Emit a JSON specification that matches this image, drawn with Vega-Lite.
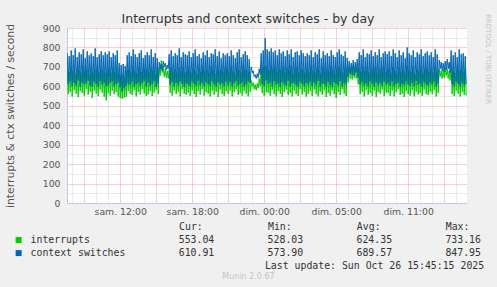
{
"$schema": "https://vega.github.io/schema/vega-lite/v6.json",
"width": 400, "height": 175,
"autosize": {"type": "none"},
"padding": {"left": 67, "top": 28, "right": 30, "bottom": 84},
"background": "#F0F0F0",
"config": {"view": {"fill": "white", "stroke": null}, "font": "DejaVu Sans"},
"title": {"text": "Interrupts and context switches - by day", "font": "DejaVu Sans", "fontSize": 12.5, "fontWeight": "normal", "color": "#333333", "anchor": "middle", "dx": -19, "dy": 12.5, "offset": 0},
"data": {"values": [
{"t":455,"i":690,"c":770},{"t":460,"i":560,"c":612},
{"t":465,"i":675,"c":755},{"t":470,"i":570,"c":625},
{"t":475,"i":700,"c":785},{"t":480,"i":548,"c":600},
{"t":485,"i":680,"c":760},{"t":490,"i":580,"c":618},
{"t":495,"i":665,"c":795},{"t":500,"i":562,"c":605},
{"t":505,"i":695,"c":750},{"t":510,"i":545,"c":630},
{"t":515,"i":685,"c":775},{"t":520,"i":575,"c":598},
{"t":525,"i":670,"c":765},{"t":530,"i":566,"c":620},
{"t":535,"i":705,"c":790},{"t":540,"i":552,"c":610},
{"t":545,"i":680,"c":745},{"t":550,"i":585,"c":615},
{"t":555,"i":690,"c":780},{"t":560,"i":558,"c":628},
{"t":565,"i":660,"c":760},{"t":570,"i":572,"c":604},
{"t":575,"i":695,"c":770},{"t":580,"i":540,"c":600},
{"t":585,"i":675,"c":755},{"t":590,"i":578,"c":622},
{"t":595,"i":685,"c":795},{"t":600,"i":563,"c":612},
{"t":605,"i":700,"c":750},{"t":610,"i":550,"c":596},
{"t":615,"i":670,"c":765},{"t":620,"i":582,"c":627},
{"t":625,"i":690,"c":780},{"t":630,"i":568,"c":608},
{"t":635,"i":680,"c":760},{"t":640,"i":547,"c":618},
{"t":645,"i":665,"c":775},{"t":650,"i":528,"c":603},
{"t":655,"i":680,"c":765},{"t":660,"i":565,"c":605},
{"t":665,"i":695,"c":780},{"t":670,"i":552,"c":618},
{"t":675,"i":670,"c":750},{"t":680,"i":578,"c":626},
{"t":685,"i":690,"c":770},{"t":690,"i":560,"c":600},
{"t":695,"i":675,"c":760},{"t":700,"i":570,"c":612},
{"t":705,"i":700,"c":785},{"t":710,"i":548,"c":620},
{"t":715,"i":660,"c":720},{"t":720,"i":540,"c":595},
{"t":725,"i":655,"c":710},{"t":730,"i":535,"c":574},
{"t":735,"i":665,"c":715},{"t":740,"i":542,"c":590},
{"t":745,"i":650,"c":705},{"t":750,"i":545,"c":602},
{"t":755,"i":685,"c":760},{"t":760,"i":575,"c":615},
{"t":765,"i":690,"c":775},{"t":770,"i":562,"c":606},
{"t":775,"i":670,"c":755},{"t":780,"i":555,"c":624},
{"t":785,"i":700,"c":790},{"t":790,"i":580,"c":598},
{"t":795,"i":680,"c":765},{"t":800,"i":548,"c":610},
{"t":805,"i":665,"c":750},{"t":810,"i":570,"c":620},
{"t":815,"i":695,"c":770},{"t":820,"i":558,"c":603},
{"t":825,"i":675,"c":785},{"t":830,"i":585,"c":616},
{"t":835,"i":690,"c":745},{"t":840,"i":563,"c":628},
{"t":845,"i":685,"c":760},{"t":850,"i":550,"c":600},
{"t":855,"i":690,"c":775},{"t":860,"i":558,"c":620},
{"t":865,"i":670,"c":760},{"t":870,"i":575,"c":604},
{"t":875,"i":700,"c":790},{"t":880,"i":550,"c":612},
{"t":885,"i":680,"c":750},{"t":890,"i":568,"c":626},
{"t":895,"i":665,"c":770},{"t":900,"i":582,"c":598},
{"t":905,"i":695,"c":745},{"t":910,"i":560,"c":615},
{"t":915,"i":700,"c":725},{"t":920,"i":655,"c":690},
{"t":925,"i":733,"c":715},{"t":930,"i":670,"c":680},
{"t":935,"i":705,"c":730},{"t":940,"i":650,"c":700},
{"t":945,"i":690,"c":720},{"t":950,"i":645,"c":685},
{"t":955,"i":680,"c":710},{"t":960,"i":640,"c":690},
{"t":965,"i":685,"c":765},{"t":970,"i":566,"c":610},
{"t":975,"i":700,"c":785},{"t":980,"i":552,"c":622},
{"t":985,"i":675,"c":755},{"t":990,"i":578,"c":600},
{"t":995,"i":690,"c":770},{"t":1000,"i":560,"c":618},
{"t":1005,"i":665,"c":760},{"t":1010,"i":572,"c":606},
{"t":1015,"i":695,"c":795},{"t":1020,"i":548,"c":624},
{"t":1025,"i":680,"c":750},{"t":1030,"i":585,"c":612},
{"t":1035,"i":700,"c":775},{"t":1040,"i":562,"c":598},
{"t":1045,"i":670,"c":765},{"t":1050,"i":556,"c":616},
{"t":1055,"i":685,"c":760},{"t":1060,"i":568,"c":610},
{"t":1065,"i":700,"c":780},{"t":1070,"i":550,"c":600},
{"t":1075,"i":670,"c":750},{"t":1080,"i":580,"c":624},
{"t":1085,"i":690,"c":770},{"t":1090,"i":560,"c":614},
{"t":1095,"i":680,"c":790},{"t":1100,"i":545,"c":602},
{"t":1105,"i":665,"c":755},{"t":1110,"i":575,"c":628},
{"t":1115,"i":695,"c":765},{"t":1120,"i":558,"c":606},
{"t":1125,"i":675,"c":745},{"t":1130,"i":585,"c":618},
{"t":1135,"i":705,"c":775},{"t":1140,"i":552,"c":600},
{"t":1145,"i":680,"c":760},{"t":1150,"i":570,"c":622},
{"t":1155,"i":690,"c":785},{"t":1160,"i":562,"c":612},
{"t":1165,"i":670,"c":750},{"t":1170,"i":548,"c":604},
{"t":1175,"i":700,"c":770},{"t":1180,"i":578,"c":626},
{"t":1185,"i":685,"c":765},{"t":1190,"i":556,"c":610},
{"t":1195,"i":665,"c":790},{"t":1200,"i":572,"c":598},
{"t":1205,"i":695,"c":755},{"t":1210,"i":545,"c":620},
{"t":1215,"i":680,"c":780},{"t":1220,"i":583,"c":608},
{"t":1225,"i":690,"c":745},{"t":1230,"i":560,"c":616},
{"t":1235,"i":675,"c":770},{"t":1240,"i":550,"c":602},
{"t":1245,"i":700,"c":760},{"t":1250,"i":575,"c":624},
{"t":1255,"i":690,"c":770},{"t":1260,"i":560,"c":606},
{"t":1265,"i":675,"c":755},{"t":1270,"i":578,"c":622},
{"t":1275,"i":700,"c":785},{"t":1280,"i":548,"c":600},
{"t":1285,"i":680,"c":760},{"t":1290,"i":570,"c":616},
{"t":1295,"i":665,"c":745},{"t":1300,"i":585,"c":628},
{"t":1305,"i":695,"c":775},{"t":1310,"i":556,"c":604},
{"t":1315,"i":685,"c":790},{"t":1320,"i":566,"c":612},
{"t":1325,"i":670,"c":750},{"t":1330,"i":552,"c":620},
{"t":1335,"i":705,"c":765},{"t":1340,"i":575,"c":598},
{"t":1345,"i":690,"c":780},{"t":1350,"i":562,"c":610},
{"t":1355,"i":680,"c":760},{"t":1360,"i":548,"c":624},
{"t":1365,"i":675,"c":740},{"t":1370,"i":570,"c":618},
{"t":1375,"i":630,"c":700},{"t":1380,"i":600,"c":670},
{"t":1385,"i":620,"c":680},{"t":1390,"i":585,"c":650},
{"t":1395,"i":610,"c":660},{"t":1400,"i":580,"c":640},
{"t":1405,"i":615,"c":665},{"t":1410,"i":590,"c":645},
{"t":1415,"i":640,"c":690},{"t":1420,"i":600,"c":660},
{"t":1425,"i":690,"c":770},{"t":1430,"i":565,"c":612},
{"t":1435,"i":700,"c":785},{"t":1440,"i":552,"c":602},
{"t":1445,"i":705,"c":848},{"t":1450,"i":570,"c":630},
{"t":1455,"i":695,"c":790},{"t":1460,"i":566,"c":612},
{"t":1465,"i":680,"c":780},{"t":1470,"i":552,"c":620},
{"t":1475,"i":705,"c":795},{"t":1480,"i":580,"c":600},
{"t":1485,"i":690,"c":775},{"t":1490,"i":560,"c":626},
{"t":1495,"i":700,"c":785},{"t":1500,"i":548,"c":608},
{"t":1505,"i":675,"c":760},{"t":1510,"i":575,"c":616},
{"t":1515,"i":690,"c":790},{"t":1520,"i":562,"c":598},
{"t":1525,"i":685,"c":770},{"t":1530,"i":545,"c":622},
{"t":1535,"i":700,"c":780},{"t":1540,"i":570,"c":610},
{"t":1545,"i":670,"c":755},{"t":1550,"i":583,"c":604},
{"t":1555,"i":695,"c":785},{"t":1560,"i":556,"c":628},
{"t":1565,"i":680,"c":765},{"t":1570,"i":565,"c":600},
{"t":1575,"i":705,"c":790},{"t":1580,"i":548,"c":614},
{"t":1585,"i":665,"c":750},{"t":1590,"i":578,"c":620},
{"t":1595,"i":690,"c":775},{"t":1600,"i":560,"c":606},
{"t":1605,"i":700,"c":780},{"t":1610,"i":550,"c":598},
{"t":1615,"i":675,"c":760},{"t":1620,"i":585,"c":624},
{"t":1625,"i":690,"c":785},{"t":1630,"i":558,"c":612},
{"t":1635,"i":685,"c":770},{"t":1640,"i":572,"c":602},
{"t":1645,"i":670,"c":755},{"t":1650,"i":547,"c":618},
{"t":1655,"i":690,"c":770},{"t":1660,"i":562,"c":610},
{"t":1665,"i":675,"c":760},{"t":1670,"i":575,"c":624},
{"t":1675,"i":700,"c":785},{"t":1680,"i":550,"c":602},
{"t":1685,"i":680,"c":750},{"t":1690,"i":583,"c":618},
{"t":1695,"i":670,"c":775},{"t":1700,"i":560,"c":606},
{"t":1705,"i":695,"c":765},{"t":1710,"i":548,"c":628},
{"t":1715,"i":685,"c":790},{"t":1720,"i":572,"c":598},
{"t":1725,"i":665,"c":745},{"t":1730,"i":556,"c":616},
{"t":1735,"i":700,"c":780},{"t":1740,"i":580,"c":612},
{"t":1745,"i":680,"c":760},{"t":1750,"i":545,"c":600},
{"t":1755,"i":690,"c":770},{"t":1760,"i":565,"c":622},
{"t":1765,"i":675,"c":755},{"t":1770,"i":552,"c":608},
{"t":1775,"i":705,"c":785},{"t":1780,"i":578,"c":596},
{"t":1785,"i":685,"c":760},{"t":1790,"i":560,"c":620},
{"t":1795,"i":665,"c":750},{"t":1800,"i":540,"c":614},
{"t":1805,"i":690,"c":775},{"t":1810,"i":570,"c":604},
{"t":1815,"i":700,"c":790},{"t":1820,"i":555,"c":626},
{"t":1825,"i":680,"c":765},{"t":1830,"i":585,"c":600},
{"t":1835,"i":670,"c":755},{"t":1840,"i":562,"c":618},
{"t":1845,"i":695,"c":780},{"t":1850,"i":550,"c":610},
{"t":1855,"i":700,"c":745},{"t":1860,"i":620,"c":650},
{"t":1865,"i":705,"c":730},{"t":1870,"i":640,"c":665},
{"t":1875,"i":695,"c":720},{"t":1880,"i":635,"c":660},
{"t":1885,"i":710,"c":735},{"t":1890,"i":645,"c":655},
{"t":1895,"i":700,"c":725},{"t":1900,"i":640,"c":670},
{"t":1905,"i":690,"c":740},{"t":1910,"i":610,"c":645},
{"t":1915,"i":690,"c":775},{"t":1920,"i":560,"c":610},
{"t":1925,"i":675,"c":760},{"t":1930,"i":572,"c":622},
{"t":1935,"i":700,"c":790},{"t":1940,"i":548,"c":604},
{"t":1945,"i":680,"c":750},{"t":1950,"i":580,"c":616},
{"t":1955,"i":695,"c":770},{"t":1960,"i":556,"c":600},
{"t":1965,"i":670,"c":765},{"t":1970,"i":566,"c":626},
{"t":1975,"i":690,"c":785},{"t":1980,"i":552,"c":612},
{"t":1985,"i":685,"c":755},{"t":1990,"i":578,"c":598},
{"t":1995,"i":700,"c":775},{"t":2000,"i":545,"c":620},
{"t":2005,"i":665,"c":760},{"t":2010,"i":570,"c":608},
{"t":2015,"i":690,"c":790},{"t":2020,"i":562,"c":618},
{"t":2025,"i":680,"c":750},{"t":2030,"i":583,"c":602},
{"t":2035,"i":700,"c":770},{"t":2040,"i":550,"c":624},
{"t":2045,"i":675,"c":780},{"t":2050,"i":568,"c":610},
{"t":2055,"i":685,"c":765},{"t":2060,"i":565,"c":616},
{"t":2065,"i":695,"c":780},{"t":2070,"i":550,"c":604},
{"t":2075,"i":670,"c":755},{"t":2080,"i":578,"c":626},
{"t":2085,"i":700,"c":790},{"t":2090,"i":548,"c":600},
{"t":2095,"i":680,"c":770},{"t":2100,"i":570,"c":612},
{"t":2105,"i":665,"c":750},{"t":2110,"i":585,"c":620},
{"t":2115,"i":695,"c":785},{"t":2120,"i":556,"c":598},
{"t":2125,"i":675,"c":760},{"t":2130,"i":562,"c":614},
{"t":2135,"i":690,"c":775},{"t":2140,"i":545,"c":606},
{"t":2145,"i":670,"c":745},{"t":2150,"i":575,"c":624},
{"t":2155,"i":705,"c":800},{"t":2160,"i":560,"c":610},
{"t":2165,"i":685,"c":770},{"t":2170,"i":552,"c":602},
{"t":2175,"i":675,"c":760},{"t":2180,"i":580,"c":618},
{"t":2185,"i":700,"c":785},{"t":2190,"i":548,"c":600},
{"t":2195,"i":665,"c":750},{"t":2200,"i":572,"c":628},
{"t":2205,"i":690,"c":775},{"t":2210,"i":558,"c":608},
{"t":2215,"i":680,"c":765},{"t":2220,"i":566,"c":616},
{"t":2225,"i":700,"c":790},{"t":2230,"i":550,"c":598},
{"t":2235,"i":670,"c":755},{"t":2240,"i":583,"c":622},
{"t":2245,"i":690,"c":770},{"t":2250,"i":560,"c":610},
{"t":2255,"i":695,"c":780},{"t":2260,"i":556,"c":604},
{"t":2265,"i":675,"c":760},{"t":2270,"i":572,"c":620},
{"t":2275,"i":690,"c":775},{"t":2280,"i":560,"c":610},
{"t":2285,"i":670,"c":750},{"t":2290,"i":580,"c":626},
{"t":2295,"i":700,"c":790},{"t":2300,"i":548,"c":600},
{"t":2305,"i":680,"c":765},{"t":2310,"i":566,"c":615},
{"t":2315,"i":690,"c":735},{"t":2320,"i":650,"c":690},
{"t":2325,"i":680,"c":725},{"t":2330,"i":640,"c":680},
{"t":2335,"i":685,"c":720},{"t":2340,"i":645,"c":675},
{"t":2345,"i":695,"c":730},{"t":2350,"i":655,"c":685},
{"t":2355,"i":690,"c":740},{"t":2360,"i":640,"c":690},
{"t":2365,"i":680,"c":725},{"t":2370,"i":630,"c":670},
{"t":2375,"i":700,"c":785},{"t":2380,"i":560,"c":610},
{"t":2385,"i":685,"c":760},{"t":2390,"i":550,"c":602},
{"t":2395,"i":670,"c":775},{"t":2400,"i":578,"c":624},
{"t":2405,"i":695,"c":750},{"t":2410,"i":562,"c":612},
{"t":2415,"i":680,"c":790},{"t":2420,"i":548,"c":600},
{"t":2425,"i":690,"c":765},{"t":2430,"i":570,"c":618},
{"t":2435,"i":675,"c":770},{"t":2440,"i":556,"c":606},
{"t":2445,"i":690,"c":755},{"t":2450,"i":553,"c":611}
]},
"layer": [
{
"mark": {"type": "line", "strokeWidth": 1, "clip": true},
"encoding": {
"x": {"field": "t", "type": "quantitative", "scale": {"domain": [454, 2454], "nice": false, "zero": false},
"axis": {"values": [540, 720, 900, 1080, 1260, 1440, 1620, 1800, 1980, 2160, 2340],
"labelExpr": "datum.value == 720 ? 'sam. 12:00' : datum.value == 1080 ? 'sam. 18:00' : datum.value == 1440 ? 'dim. 00:00' : datum.value == 1800 ? 'dim. 05:00' : datum.value == 2160 ? 'dim. 11:00' : ''",
"grid": true, "gridColor": "#EBA5A5", "gridDash": [1, 1], "gridWidth": 1, "gridOpacity": 1,
"domain": true, "domainColor": "#C4C4F0", "domainWidth": 1, "ticks": false,
"labelFont": "DejaVu Sans", "labelFontSize": 9.3, "labelColor": "#555555", "labelPadding": 4, "labelFlush": false, "labelOverlap": false,
"title": "Munin 2.0.67", "titleFont": "DejaVu Sans", "titleFontSize": 8, "titleFontWeight": "normal", "titleColor": "#C4C4C4",
"titleX": 181, "titleY": 73, "titleAlign": "center", "titleBaseline": "middle", "titleAnchor": null}},
"y": {"field": "i", "type": "quantitative", "scale": {"domain": [0, 900], "nice": false},
"axis": {"values": [0, 100, 200, 300, 400, 500, 600, 700, 800, 900],
"grid": true, "gridColor": "#EBA5A5", "gridDash": [1, 1], "gridWidth": 1, "gridOpacity": 1,
"domain": true, "domainColor": "#C4C4F0", "ticks": false,
"labelFont": "DejaVu Sans", "labelFontSize": 9.3, "labelColor": "#555555", "labelPadding": 7, "labelFlush": false, "labelOverlap": false,
"title": "interrupts & ctx switches / second", "titleFont": "DejaVu Sans", "titleFontSize": 10.8, "titleFontWeight": "normal", "titleColor": "#555555",
"titleX": -57, "titleY": 87.5, "titleAngle": 270, "titleAlign": "center", "titleBaseline": "middle"}},
"color": {"datum": "interrupts", "type": "nominal",
"scale": {"domain": ["interrupts", "context switches", "lu"], "range": ["#00CC00", "#0066B3", "transparent"]},
"legend": {"orient": "none", "legendX": -53.3, "legendY": 194.3, "padding": 0,
"title": "\u2800\u2800\u2800\u2800\u2800\u00a0\u00a0\u00a0\u00a0\u00a0\u00a0\u00a0\u00a0\u00a0\u00a0\u00a0\u00a0\u00a0\u00a0\u00a0\u00a0\u00a0\u00a0\u00a0\u00a0\u00a0\u00a0Cur:\u00a0\u00a0\u00a0\u00a0\u00a0\u00a0\u00a0\u00a0\u00a0\u00a0\u00a0Min:\u00a0\u00a0\u00a0\u00a0\u00a0\u00a0\u00a0\u00a0\u00a0\u00a0\u00a0Avg:\u00a0\u00a0\u00a0\u00a0\u00a0\u00a0\u00a0\u00a0\u00a0\u00a0\u00a0Max:",
"titleFont": "DejaVu Sans Mono", "titleFontSize": 9.85, "titleFontWeight": "normal", "titleColor": "#333333", "titleLimit": 1000, "titlePadding": 3, "titleBaseline": "top",
"labelFont": "DejaVu Sans Mono", "labelFontSize": 9.85, "labelColor": "#333333", "labelLimit": 1000, "labelOffset": 7,
"labelExpr": "datum.value == 'interrupts' ? 'interrupts\u00a0\u00a0\u00a0\u00a0\u00a0\u00a0\u00a0\u00a0\u00a0\u00a0\u00a0\u00a0\u00a0\u00a0\u00a0553.04\u00a0\u00a0\u00a0\u00a0\u00a0\u00a0\u00a0\u00a0\u00a0528.03\u00a0\u00a0\u00a0\u00a0\u00a0\u00a0\u00a0\u00a0\u00a0624.35\u00a0\u00a0\u00a0\u00a0\u00a0\u00a0\u00a0\u00a0\u00a0733.16' : datum.value == 'context switches' ? 'context switches\u00a0\u00a0\u00a0\u00a0\u00a0\u00a0\u00a0\u00a0\u00a0610.91\u00a0\u00a0\u00a0\u00a0\u00a0\u00a0\u00a0\u00a0\u00a0573.90\u00a0\u00a0\u00a0\u00a0\u00a0\u00a0\u00a0\u00a0\u00a0689.57\u00a0\u00a0\u00a0\u00a0\u00a0\u00a0\u00a0\u00a0\u00a0847.95' : '\u2800\u2800\u2800\u00a0\u00a0\u00a0\u00a0\u00a0\u00a0\u00a0\u00a0\u00a0\u00a0\u00a0\u00a0\u00a0\u00a0\u00a0\u00a0\u00a0\u00a0\u00a0\u00a0\u00a0\u00a0\u00a0\u00a0\u00a0\u00a0\u00a0\u00a0\u00a0\u00a0\u00a0\u00a0\u00a0\u00a0\u00a0\u00a0Last update: Sun Oct 26 15:45:15 2025'",
"symbolType": "square", "symbolSize": 36, "symbolStrokeWidth": 0, "symbolOpacity": 1, "rowPadding": 2,
"encode": {"symbols": {"update": {"fill": {"scale": "color", "field": "value"}, "stroke": {"value": "transparent"}, "opacity": {"value": 1}}}}}}
}
},
{
"mark": {"type": "line", "strokeWidth": 1, "clip": true},
"encoding": {
"x": {"field": "t", "type": "quantitative", "scale": {"domain": [454, 2454], "nice": false, "zero": false},
"axis": {"orient": "top", "values": [480, 600, 660, 780, 840, 960, 1020, 1140, 1200, 1320, 1380, 1500, 1560, 1680, 1740, 1860, 1920, 2040, 2100, 2220, 2280, 2400],
"grid": true, "gridColor": "#D2D2D2", "gridDash": [1, 1], "gridWidth": 1, "gridOpacity": 1,
"labels": false, "ticks": false, "domain": false, "title": null}},
"y": {"field": "c", "type": "quantitative", "scale": {"domain": [0, 900], "nice": false},
"axis": {"orient": "right", "values": [50, 150, 250, 350, 450, 550, 650, 750, 850],
"grid": true, "gridColor": "#D2D2D2", "gridDash": [1, 1], "gridWidth": 1, "gridOpacity": 1,
"labels": false, "ticks": false, "domain": false,
"title": "RRDTOOL / TOBI OETIKER", "titleFont": "DejaVu Sans", "titleFontSize": 7, "titleFontWeight": "normal", "titleColor": "#C4C4C4",
"titleAngle": 90, "titleX": 20.5, "titleY": 30.5, "titleAlign": "center", "titleBaseline": "middle"}},
"color": {"datum": "context switches", "type": "nominal"}
}
}
],
"resolve": {"scale": {"x": "independent", "y": "independent"}}
}
